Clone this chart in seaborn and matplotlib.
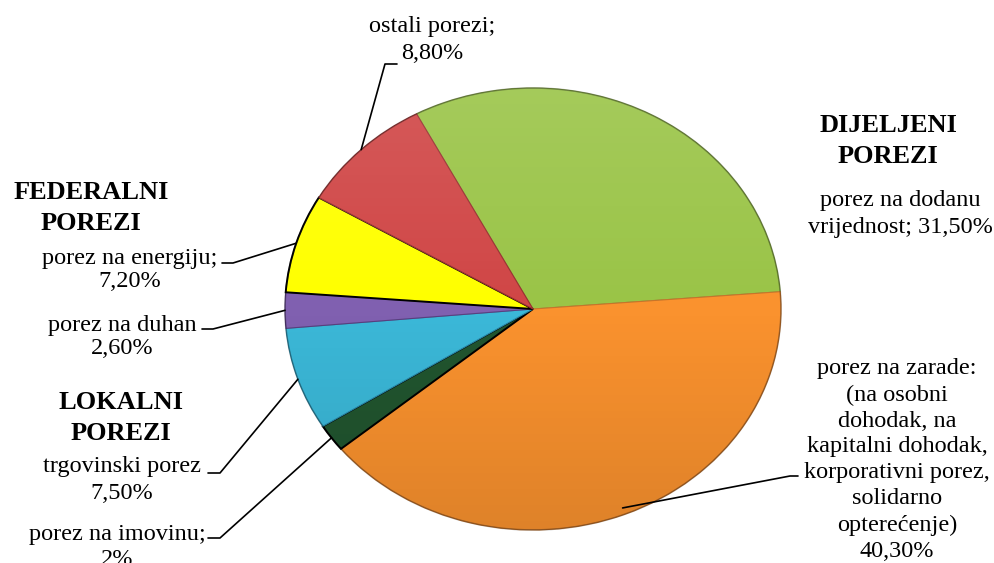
import numpy as np
import matplotlib
matplotlib.use("Agg")
import matplotlib.pyplot as plt
import seaborn as sns
from matplotlib.patches import Ellipse

sns.set_theme(style="white")
plt.rcParams['font.family'] = ['Liberation Serif', 'DejaVu Serif']

# data (clockwise from the top)
porezi = ['porez na dodanu\nvrijednost;', 'porez na zarade:\n(na osobni\ndohodak, na\nkapitalni dohodak,\nkorporativni porez,\nsolidarno\nopterećenje)',
          'porez na imovinu;', 'trgovinski porez', 'porez na duhan', 'porez na energiju;', 'ostali porezi;']
udjeli = [31.5, 40.3, 2.0, 7.5, 2.6, 7.2, 8.8]
postotci = ['31,50%', '40,30%', '2%', '7,50%', '2,60%', '7,20%', '8,80%']
boje = ['#9AC447', '#FA922E', '#21552F', '#3BB8D8', '#8060B0', '#FFFF00', '#D04646']
rubovi = ['#7A9A3A', '#C8742A', 'black', '#2A8AA8', '#5A3F80', 'black', '#9A3030']
grupe = ['DIJELJENI\nPOREZI', 'FEDERALNI\nPOREZI', 'LOKALNI\nPOREZI']

W, H = 995, 563
CX, CY, RX, RY = 533, 309, 248, 221   # pie centre / radii in pixels


def to_data(px, py):
    return (px - CX) / RX, (CY - py) / RY


fig = plt.figure(figsize=(W / 100, H / 100), dpi=100)
ax = fig.add_axes([0, 0, 1, 1])

wedges, _ = ax.pie(udjeli, colors=boje, startangle=118, counterclock=False,
                   wedgeprops=dict(linewidth=0.8))
for w, e in zip(wedges, rubovi):
    w.set_edgecolor(e)
    if e == 'black':
        w.set_linewidth(1.4)

# soft light-to-dark shading like the 3D bevel
t = np.linspace(0, 1, 200)[:, None, None]
grad = np.zeros((200, 2, 4))
grad[..., :3] = np.where(t < 0.5, 1.0, 0.0)
grad[..., 3] = np.abs(t - 0.5)[:, :, 0] * 0.22
img = ax.imshow(grad, extent=[-1, 1, -1, 1], aspect='auto', zorder=3, interpolation='bilinear')
clip = Ellipse((0, 0), 2, 2, transform=ax.transData)
img.set_clip_path(clip)
rim = Ellipse((0, 0), 2, 2, fill=False, edgecolor='#00000040', linewidth=1.2, zorder=4)
ax.add_patch(rim)

ax.set_aspect('auto')
ax.set_xlim(-CX / RX, (W - CX) / RX)
ax.set_ylim((CY - H) / RY, CY / RY)
ax.axis('off')

# labels: centre of text block (px), linespacing, leader elbow (px), leader start (px), radius
raspored = [
    ((900, 214), 1.42, None, None, None),
    ((897, 460), 1.31, (790, 476), (798, 476), 0.97),
    ((117, 547), 1.25, (220, 538), (208, 538), 1.0),
    ((122, 480), 1.33, (220, 473), (208, 473), 1.0),
    ((122, 337), 1.12, (213, 329), (202, 329), 1.0),
    ((130, 270), 1.15, (233, 263), (222, 263), 1.0),
    ((432, 40), 1.35, (385, 64), (397, 64), 1.0),
]

for w, naziv, pct, (pos, ls, elbow, start, r) in zip(wedges, porezi, postotci, raspored):
    sep = ' ' if naziv.endswith('vrijednost;') else '\n'
    fig.text(pos[0] / W, 1 - pos[1] / H, naziv + sep + pct, ha='center', va='center',
             multialignment='center', fontsize=17.5, linespacing=ls, color='black')
    if elbow is None:
        continue
    ang = np.deg2rad((w.theta1 + w.theta2) / 2)
    x0, y0 = to_data(*start)
    x1, y1 = to_data(*elbow)
    ax.plot([x0, x1, r * np.cos(ang)], [y0, y1, r * np.sin(ang)], color='black',
            linewidth=1.2, zorder=5, clip_on=False)

for tekst, (gx, gy) in zip(grupe, [(888, 141), (91, 208), (121, 418)]):
    fig.text(gx / W, 1 - gy / H, tekst, ha='center', va='center', multialignment='center',
             fontsize=19, fontweight='bold', linespacing=1.4, color='black')

fig.savefig('out.png', dpi=100)
